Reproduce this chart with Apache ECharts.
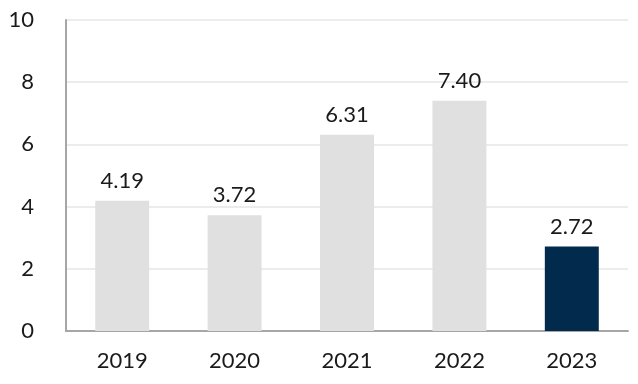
<!DOCTYPE html>
<html><head><meta charset="utf-8">
<script src="https://cdn.jsdelivr.net/npm/echarts@6/dist/echarts.min.js"></script>
<style>html,body{margin:0;padding:0;background:#fff}#c{width:638px;height:384px}</style>
</head><body><div id="c"></div>
<script>
const categories = ['2019','2020','2021','2022','2023'];
const values = [4.19, 3.72, 6.31, 7.40, 2.72];
const yTicks = [0, 2, 4, 6, 8, 10];
const barColors = ['#e0e0e0','#e0e0e0','#e0e0e0','#e0e0e0','#012a4c'];
const FONT = 'Lato';
const chart = echarts.init(document.getElementById('c'), null, {renderer:'canvas'});
chart.setOption({
  animation: false,
  grid: {left: 66, right: 10, top: 20, bottom: 53},
  xAxis: {
    type: 'category', data: categories,
    axisLine: {show: true, lineStyle: {color: '#a6a6a6', width: 2}},
    axisTick: {show: false},
    axisLabel: {color: '#1a1a1a', fontSize: 22, fontFamily: FONT, margin: 19}
  },
  yAxis: {
    type: 'value', min: yTicks[0], max: yTicks[yTicks.length-1], interval: 2,
    axisLine: {show: true, lineStyle: {color: '#a6a6a6', width: 2}},
    axisTick: {show: false},
    splitLine: {lineStyle: {color: '#e6e6e6', width: 1.5}},
    axisLabel: {color: '#1a1a1a', fontSize: 22, fontFamily: FONT, margin: 32}
  },
  series: [{
    type: 'bar', barWidth: '48%',
    data: values.map((v, i) => ({value: v, itemStyle: {color: barColors[i]}})),
    label: {show: true, position: 'top', distance: 9, color: '#1a1a1a', fontSize: 22, fontFamily: FONT,
      formatter: p => p.value.toFixed(2)}
  }]
});
</script></body></html>
